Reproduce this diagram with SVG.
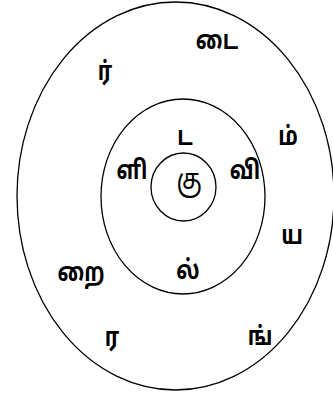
<svg xmlns="http://www.w3.org/2000/svg" width="333" height="395" viewBox="0 0 333 395">
<style>
.e{fill:none;stroke:#000;stroke-width:1.3}
text{font-family:"Noto Sans Tamil","Noto Sans","Liberation Sans",sans-serif;font-size:22px;font-weight:bold;fill:#000;text-anchor:middle;dominant-baseline:central;transform-box:fill-box;transform-origin:center;transform:scale(0.95,1.18)}
.big{font-size:25px;font-weight:normal}
</style>
<rect width="333" height="395" fill="#fff"/>
<g id="connectors"></g>
<g id="outer"><ellipse class="e" cx="175.5" cy="196" rx="158.5" ry="194"/></g>
<g id="middle"><ellipse class="e" cx="183" cy="196.5" rx="82" ry="97.5"/></g>
<g id="inner"><ellipse class="e" cx="183.5" cy="187" rx="32.5" ry="34"/></g>
<g id="t-ta"><text x="185" y="139">ட</text></g>
<g id="t-li"><text x="132" y="173">ளி</text></g>
<g id="t-ku"><text class="big" x="189" y="182">கு</text></g>
<g id="t-vi"><text x="245" y="173">வி</text></g>
<g id="t-l"><text x="188" y="273">ல்</text></g>
<g id="t-rai"><text x="81" y="275">றை</text></g>
<g id="t-ra"><text x="112" y="340">ர</text></g>
<g id="t-ng"><text x="260" y="339">ங்</text></g>
<g id="t-ya"><text x="292" y="238">ய</text></g>
<g id="t-m"><text x="288" y="139">ம்</text></g>
<g id="t-r"><text x="105" y="74">ர்</text></g>
<g id="t-dai"><text x="217" y="43">டை</text></g>
</svg>
